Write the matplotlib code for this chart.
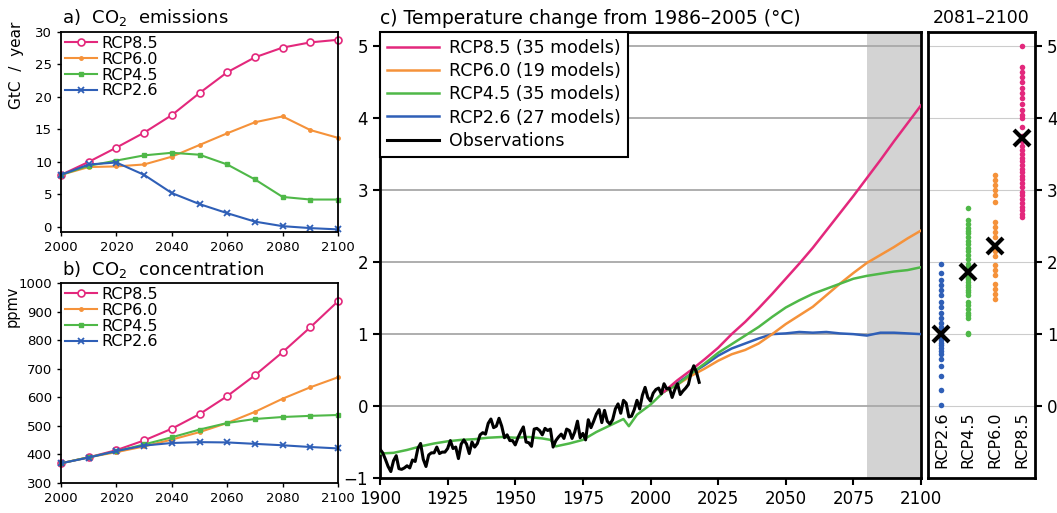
import numpy as np
import matplotlib
matplotlib.use("Agg")
import matplotlib.pyplot as plt

plt.rcParams['font.family'] = ['DejaVu Sans']

# colours of the four scenarios
C85 = '#e3287c'
C60 = '#f5923a'
C45 = '#4fb848'
C26 = '#2f5fb7'

# ---- a) CO2 emissions (GtC / year) ----
dec = [2000, 2010, 2020, 2030, 2040, 2050, 2060, 2070, 2080, 2090, 2100]
emis85 = [8.0, 10.0, 12.2, 14.5, 17.2, 20.6, 23.8, 26.1, 27.6, 28.4, 28.8]
emis60 = [8.0, 9.2, 9.3, 9.6, 10.8, 12.6, 14.4, 16.1, 17.0, 14.9, 13.7]
emis45 = [8.0, 9.4, 10.2, 11.0, 11.4, 11.1, 9.6, 7.3, 4.6, 4.2, 4.2]
emis26 = [8.0, 9.6, 9.9, 8.0, 5.2, 3.5, 2.1, 0.8, 0.1, -0.2, -0.4]

# ---- b) CO2 concentration (ppmv) ----
conc85 = [369, 390, 415, 449, 490, 541, 604, 677, 758, 845, 936]
conc60 = [369, 390, 408, 428, 452, 478, 510, 549, 595, 635, 670]
conc45 = [369, 390, 411, 435, 460, 487, 510, 524, 531, 535, 538]
conc26 = [369, 389, 412, 431, 440, 443, 442, 437, 432, 426, 421]

# ---- c) temperature change from 1986-2005 ----
hist_years = [1900, 1905, 1910, 1915, 1920, 1925, 1930, 1935, 1940, 1945, 1950,
              1955, 1960, 1963, 1965, 1970, 1975, 1980, 1985, 1990, 1992, 1995,
              2000, 2005]
hist_mean = [-0.66, -0.65, -0.61, -0.56, -0.52, -0.49, -0.47, -0.46, -0.44, -0.43,
             -0.44, -0.43, -0.45, -0.47, -0.56, -0.52, -0.47, -0.36, -0.27, -0.18,
             -0.28, -0.12, 0.02, 0.20]

proj_years = [2005, 2010, 2015, 2020, 2025, 2030, 2035, 2040, 2045, 2050, 2055,
              2060, 2065, 2070, 2075, 2080, 2085, 2090, 2095, 2100]
t85 = [0.20, 0.36, 0.50, 0.65, 0.81, 1.00, 1.17, 1.36, 1.56, 1.77, 1.98,
       2.20, 2.44, 2.68, 2.92, 3.17, 3.42, 3.68, 3.93, 4.18]
t60 = [0.20, 0.30, 0.42, 0.52, 0.63, 0.72, 0.78, 0.87, 1.00, 1.14, 1.26,
       1.38, 1.54, 1.70, 1.85, 1.99, 2.10, 2.21, 2.33, 2.44]
t45 = [0.20, 0.30, 0.45, 0.59, 0.74, 0.86, 0.98, 1.10, 1.24, 1.37, 1.47,
       1.56, 1.63, 1.70, 1.77, 1.81, 1.84, 1.87, 1.89, 1.93]
t26 = [0.20, 0.32, 0.45, 0.57, 0.70, 0.80, 0.87, 0.94, 1.00, 1.01, 1.03,
       1.02, 1.03, 1.01, 1.00, 0.98, 1.02, 1.02, 1.01, 1.00]

obs_years = list(range(1900, 2019))
obs = [-0.60, -0.65, -0.74, -0.84, -0.91, -0.76, -0.69, -0.87, -0.88, -0.86,
       -0.83, -0.86, -0.75, -0.77, -0.59, -0.52, -0.74, -0.84, -0.68, -0.65,
       -0.65, -0.57, -0.66, -0.64, -0.64, -0.59, -0.48, -0.59, -0.57, -0.73,
       -0.53, -0.47, -0.53, -0.66, -0.50, -0.57, -0.52, -0.40, -0.37, -0.39,
       -0.24, -0.18, -0.30, -0.28, -0.17, -0.28, -0.44, -0.40, -0.48, -0.48,
       -0.54, -0.44, -0.36, -0.29, -0.50, -0.51, -0.56, -0.32, -0.31, -0.34,
       -0.40, -0.31, -0.34, -0.32, -0.57, -0.48, -0.43, -0.39, -0.45, -0.32,
       -0.34, -0.45, -0.36, -0.21, -0.44, -0.38, -0.47, -0.19, -0.30, -0.21,
       -0.11, -0.05, -0.23, -0.06, -0.21, -0.25, -0.19, -0.04, 0.03, -0.10,
       0.08, 0.04, -0.15, -0.14, -0.05, 0.08, -0.04, 0.15, 0.26, 0.12,
       0.07, 0.18, 0.23, 0.25, 0.17, 0.31, 0.24, 0.25, 0.12, 0.23,
       0.31, 0.16, 0.21, 0.25, 0.30, 0.46, 0.56, 0.47, 0.33]

# ---- d) 2081-2100 individual models ----
scen = ['RCP2.6', 'RCP4.5', 'RCP6.0', 'RCP8.5']
m26 = [1.97, 1.85, 1.75, 1.68, 1.62, 1.55, 1.45, 1.38, 1.30, 1.22, 1.15, 1.10,
       1.05, 1.02, 0.98, 0.95, 0.92, 0.88, 0.85, 0.81, 0.77, 0.72, 0.66, 0.55,
       0.42, 0.22, 0.02]
m45 = [2.75, 2.58, 2.53, 2.48, 2.44, 2.40, 2.35, 2.30, 2.25, 2.20, 2.15, 2.10,
       2.05, 1.98, 1.93, 1.90, 1.88, 1.84, 1.80, 1.78, 1.76, 1.72, 1.68, 1.65,
       1.62, 1.58, 1.55, 1.45, 1.40, 1.35, 1.30, 1.26, 1.22, 1.02, 1.00]
m60 = [3.21, 3.14, 3.07, 3.00, 2.93, 2.84, 2.56, 2.49, 2.42, 2.35, 2.15, 2.08,
       1.96, 1.89, 1.82, 1.70, 1.63, 1.56, 1.49]
m85 = [5.00, 4.72, 4.65, 4.58, 4.50, 4.42, 4.35, 4.28, 4.20, 4.12, 4.05, 4.00,
       3.88, 3.75, 3.68, 3.62, 3.56, 3.50, 3.45, 3.40, 3.35, 3.30, 3.25, 3.20,
       3.15, 3.10, 3.05, 2.98, 2.93, 2.88, 2.82, 2.77, 2.72, 2.67, 2.63]
means = [1.00, 1.87, 2.23, 3.72]

W, H = 1057, 513
fig = plt.figure(figsize=(W / 100, H / 100), dpi=100)


def box(l, t, r, b):
    return [l / W, 1 - b / H, (r - l) / W, (b - t) / H]


# panel a and b
axa = fig.add_axes(box(61, 32, 338, 232))
axb = fig.add_axes(box(61, 283, 338, 483))

series = [('RCP8.5', C85, 'o', dict(ms=5, mfc='white', mew=1.2)),
          ('RCP6.0', C60, 'o', dict(ms=2.5)),
          ('RCP4.5', C45, 's', dict(ms=3.5)),
          ('RCP2.6', C26, 'x', dict(ms=5, mew=1.3))]
for ax, data in [(axa, [emis85, emis60, emis45, emis26]),
                 (axb, [conc85, conc60, conc45, conc26])]:
    for (lab, col, mk, kw), vals in zip(series, data):
        ax.plot(dec, vals, color=col, marker=mk, lw=1.5, mec=col,
                label=lab, clip_on=False, **kw)
    ax.set_xlim(2000, 2100)
    ax.set_xticks(range(2000, 2101, 20))
    ax.tick_params(labelsize=9.5, direction='out', length=3, width=1)
    for s in ax.spines.values():
        s.set_linewidth(1.3)
    ax.legend(loc='upper left', frameon=False, fontsize=11.5, handlelength=2.0,
              handletextpad=0.25, labelspacing=0.05, borderaxespad=0.1,
              borderpad=0.15)

axa.set_ylim(-0.8, 30)
axa.set_yticks(range(0, 31, 5))
axb.set_ylim(300, 1000)
axb.set_yticks(range(300, 1001, 100))

fig.text(62 / W, 1 - 18 / H, 'a)  CO$_2$  emissions', fontsize=13, va='center')
fig.text(62 / W, 1 - 270 / H, 'b)  CO$_2$  concentration', fontsize=13, va='center')
fig.text(17 / W, 1 - 65 / H, 'GtC  /  year', fontsize=11, rotation=90,
         ha='center', va='center')
fig.text(12 / W, 1 - 306 / H, 'ppmv', fontsize=10.5, rotation=90,
         ha='center', va='center')

# panel c
axc = fig.add_axes(box(380, 32, 921, 478))
axc.axvspan(2080, 2100, color='#d3d3d3', lw=0, zorder=0)
for yv in range(0, 6):
    axc.axhline(yv, color='#a8a8a8', lw=1.3, zorder=1)
axc.plot(proj_years, t26, color=C26, lw=1.8, label='RCP2.6 (27 models)', zorder=3)
axc.plot(proj_years, t60, color=C60, lw=1.8, label='RCP6.0 (19 models)', zorder=3)
axc.plot(proj_years, t45, color=C45, lw=1.8, label='RCP4.5 (35 models)', zorder=3)
axc.plot(hist_years, hist_mean, color=C45, lw=1.8, zorder=3)
axc.plot(proj_years, t85, color=C85, lw=1.8, label='RCP8.5 (35 models)', zorder=3)
axc.plot(obs_years, obs, color='black', lw=2.2, label='Observations', zorder=4)
axc.set_xlim(1900, 2100)
axc.set_ylim(-1, 5.2)
axc.set_xticks(range(1900, 2101, 25))
axc.set_yticks(range(-1, 6))
axc.tick_params(labelsize=12, direction='out', length=5, width=1.5)
for s in axc.spines.values():
    s.set_linewidth(2)
h, l = axc.get_legend_handles_labels()
order = [3, 1, 2, 0, 4]
leg = axc.legend([h[i] for i in order], [l[i] for i in order], loc='upper left',
                 fontsize=12.5, handlelength=3.0, handletextpad=0.6,
                 labelspacing=0.3, borderaxespad=0, fancybox=False,
                 framealpha=1, edgecolor='black', borderpad=0.4)
leg.get_frame().set_linewidth(1.5)
leg.set_zorder(10)
fig.text(380 / W, 1 - 18 / H, 'c) Temperature change from 1986\u20132005 (\u00b0C)',
         fontsize=13.5, va='center')

# panel d
axd = fig.add_axes(box(928, 32, 1035, 478))
for yv in range(0, 6):
    axd.axhline(yv, color='#cccccc', lw=0.8, zorder=1)
for i, (vals, col) in enumerate(zip([m26, m45, m60, m85], [C26, C45, C60, C85])):
    axd.plot([i] * len(vals), vals, 'o', color=col, ms=4, mec='none', zorder=3)
    axd.plot(i, means[i], 'x', color='black', ms=11, mew=3, zorder=4)
    axd.text(i, -0.08, scen[i], rotation=90, ha='center', va='top', fontsize=11.5)
axd.set_xlim(-0.5, 3.5)
axd.set_ylim(-1, 5.2)
axd.set_xticks([])
axd.set_yticks(range(0, 6))
axd.yaxis.tick_right()
axd.tick_params(labelsize=12, direction='out', length=5, width=1.5)
for s in axd.spines.values():
    s.set_linewidth(2)
fig.text(981 / W, 1 - 18 / H, '2081\u20132100', fontsize=12.5, ha='center', va='center')

fig.savefig('out.png', dpi=100)
